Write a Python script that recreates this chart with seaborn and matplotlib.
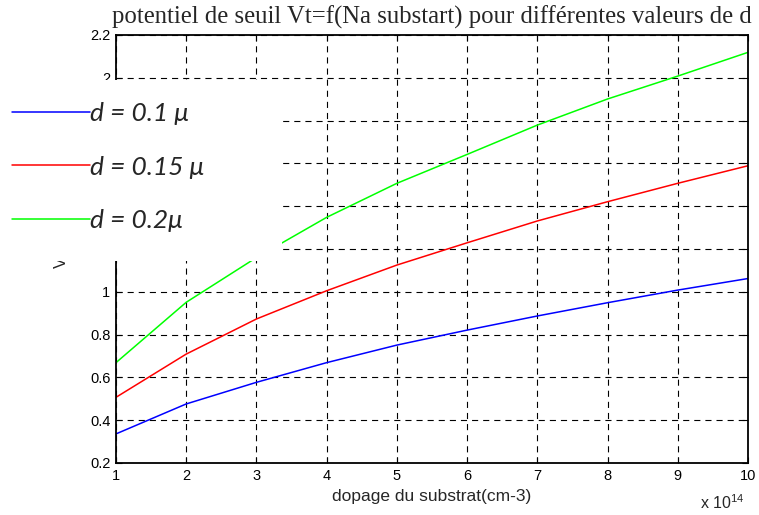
import matplotlib
matplotlib.use("Agg")
import matplotlib.pyplot as plt
import pandas as pd
import seaborn as sns
from matplotlib.patches import Rectangle

# dopage (x 1e14 cm-3)
dopage = [1, 2, 3, 4, 5, 6, 7, 8, 9, 10]
# threshold voltage for each oxide thickness
vt_d01 = [0.336, 0.476, 0.577, 0.669, 0.751, 0.821, 0.887, 0.949, 1.008, 1.062]
vt_d015 = [0.507, 0.709, 0.873, 1.005, 1.125, 1.229, 1.331, 1.421, 1.507, 1.589]
vt_d02 = [0.669, 0.951, 1.160, 1.348, 1.507, 1.642, 1.779, 1.901, 2.008, 2.119]
labels = ["d = 0.1 \u03bc", "d = 0.15 \u03bc", "d = 0.2\u03bc"]
yticks = [0.2, 0.4, 0.6, 0.8, 1, 1.2, 1.4, 1.6, 1.8, 2, 2.2]
ytick_labels = ["0.2", "0.4", "0.6", "0.8", "1", "1.2", "1.4", "1.6", "1.8", "2", "2.2"]

df = pd.concat([
    pd.DataFrame({"dopage": dopage, "Vt": v, "d": lab})
    for v, lab in zip([vt_d01, vt_d015, vt_d02], labels)
])

sns.set_style("ticks")
plt.rcParams["font.family"] = ["Liberation Sans", "DejaVu Sans"]
plt.rcParams["mathtext.fontset"] = "custom"
plt.rcParams["mathtext.rm"] = "Liberation Sans"

fig = plt.figure(figsize=(7.59, 5.15), dpi=100)
ax = fig.add_axes([116 / 759, 1 - 463 / 515, 632 / 759, 428 / 515])

sns.lineplot(data=df, x="dopage", y="Vt", hue="d", palette=["#0000ff", "#ff0000", "#00ff00"],
             linewidth=1.1, ax=ax, legend=False)

ax.set_xlim(1, 10)
ax.set_ylim(0.2, 2.2)
ax.set_xticks(dopage)
ax.set_yticks(yticks)
ax.set_yticklabels(ytick_labels)
ax.grid(True, color="black", linewidth=0.8, linestyle=(0, (5.5, 4.5)))
ax.tick_params(direction="in", length=4, width=0.8, top=True, right=True,
               labelsize=10.5, colors="black", pad=4)
for s in ax.spines.values():
    s.set_linewidth(1.3)
    s.set_color("black")

ax.set_xlabel("dopage du substrat(cm-3)", fontsize=12.5, labelpad=5)
ax.set_ylabel("Vt(V)", fontsize=12)
ax.yaxis.set_label_coords(-0.075, 0.5)
ax.set_title("potentiel de seuil Vt=f(Na substart) pour diff\u00e9rentes valeurs de d",
             family=["Liberation Serif"], fontsize=17.8, pad=8)
fig.text(700 / 759, 1 - 503 / 515, "x 10$^{\\mathregular{14}}$", fontsize=11.5, va="center")

# white box holding the legend, overlapping the axes
fig.add_artist(Rectangle((0, 1 - 261 / 515), 282 / 759, 181 / 515,
                         transform=fig.transFigure, facecolor="white",
                         edgecolor="none", zorder=3))

handles = [plt.Line2D([], [], color=c, linewidth=1.1) for c in ["#0000ff", "#ff0000", "#00ff00"]]
leg = fig.legend(handles, labels, loc="upper left", bbox_to_anchor=(12 / 759, 1 - 102 / 515),
                 frameon=False, handlelength=2.95, handletextpad=0.02, labelspacing=1.16,
                 borderpad=0, borderaxespad=0,
                 prop={"family": "Lato", "style": "italic", "size": 19})
leg.set_zorder(5)

fig.savefig("out.png", dpi=100)
